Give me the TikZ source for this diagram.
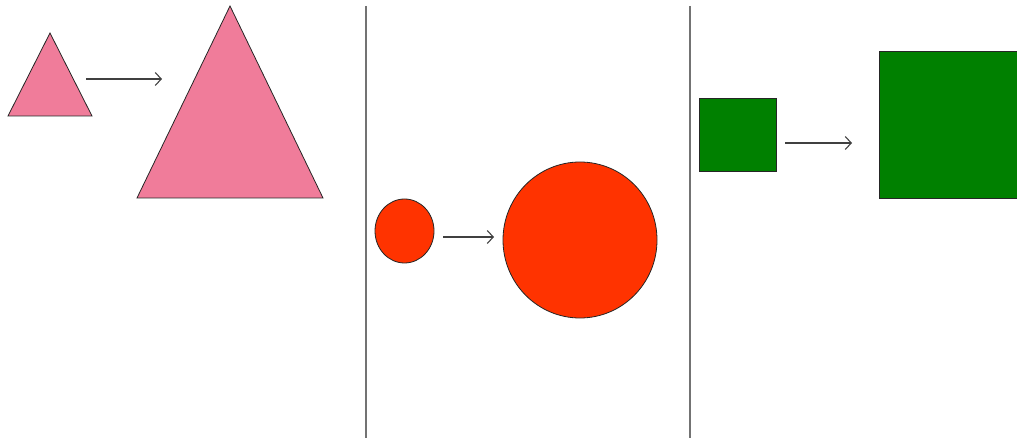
\documentclass[tikz,border=0pt]{standalone}
\usepackage{xcolor}
\usepackage{tikz}
\usetikzlibrary{arrows.meta}
\usetikzlibrary{shapes.geometric}
\definecolor{shapepink}{RGB}{240,124,154}
\definecolor{shapered}{RGB}{255,51,0}
\definecolor{shapegreen}{RGB}{0,128,0}
\tikzset{
  outline/.style = {draw=black!85, line width=0.8pt},
  growarrow/.style = {draw=black!75, line width=1.1pt, -{Straight Barb[length=6pt,width=13pt,line width=1.1pt]}},
  divider/.style = {draw=black!55, line width=1.2pt}
}

\begin{document}
\begin{tikzpicture} [x=1pt, y=-1pt]
    \useasboundingbox (0,0) rectangle (1017,438);
    % triangles
    \filldraw[outline, fill=shapepink] (50,33)--(92,116)--(8,116)--cycle;
    \filldraw[outline, fill=shapepink] (230,6)--(323,198)--(137,198)--cycle;
    \coordinate (triA) at (86,79);
    \coordinate (triB) at (162,79);
    \draw[growarrow] (triA)--(triB);
    % dividers
    \foreach \x/\name in {366/divA, 690/divB} {
      \coordinate (\name top) at (\x,6);
      \coordinate (\name bot) at (\x,438);
      \draw[divider] (\name top)--(\name bot);
    }
    % circles
    \node[ellipse, outline, fill=shapered, inner sep=0, minimum width=59, minimum height=64] (circA) at (404.5,231) {};
    \node[ellipse, outline, fill=shapered, inner sep=0, minimum width=154, minimum height=156] (circB) at (580,240) {};
    \coordinate (circArrA) at (443,237);
    \coordinate (circArrB) at (494,237);
    \draw[growarrow] (circArrA)--(circArrB);
    % squares
    \node[rectangle, outline, fill=shapegreen, inner sep=0, minimum width=77, minimum height=73] (sqA) at (737.5,134.5) {};
    \node[rectangle, outline, fill=shapegreen, inner sep=0, minimum width=140, minimum height=147, anchor=north west] (sqB) at (879,51) {};
    \coordinate (sqArrA) at (785,143);
    \coordinate (sqArrB) at (852,143);
    \draw[growarrow] (sqArrA)--(sqArrB);
\end{tikzpicture}
\end{document}
